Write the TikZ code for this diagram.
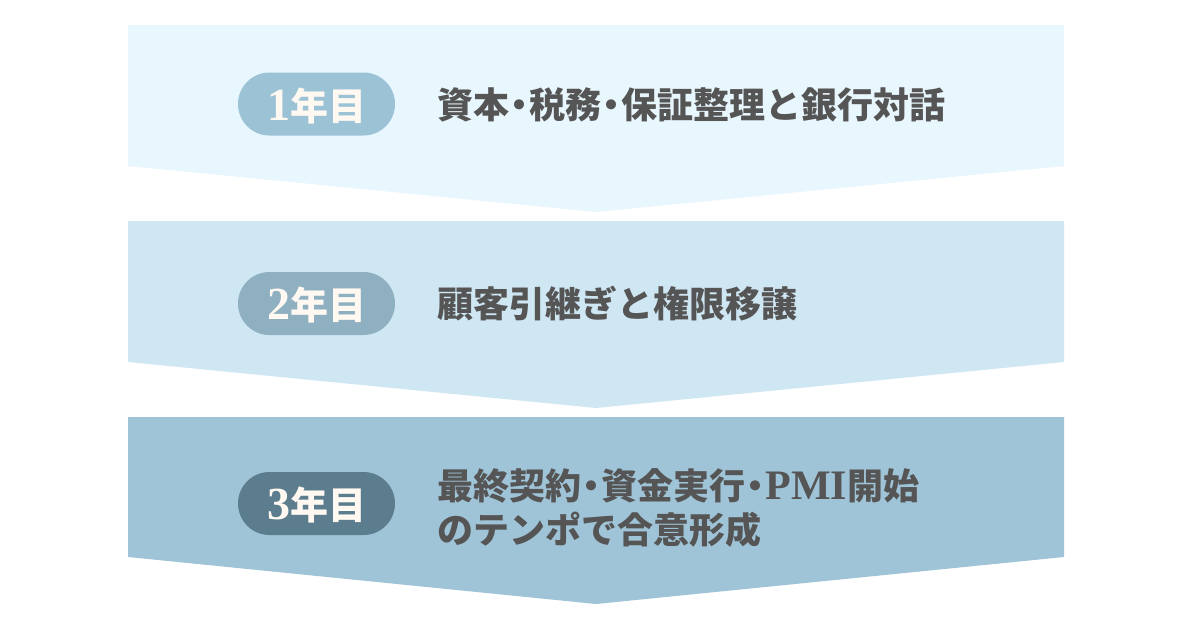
\documentclass[tikz,border=0pt]{standalone}
\usepackage{fontspec}
\newfontfamily\jp{Noto Sans CJK JP}
\newfontfamily\lser{Liberation Serif}
\definecolor{pone}{HTML}{E8F6FD}
\definecolor{ptwo}{HTML}{CFE6F3}
\definecolor{pthree}{HTML}{A0C4D7}
\definecolor{bone}{HTML}{9CC2D6}
\definecolor{btwo}{HTML}{8FB0C0}
\definecolor{bthree}{HTML}{5B7D8E}
\definecolor{txt}{HTML}{555555}
\definecolor{ptxt}{HTML}{FFF9F2}
\newcommand\kdot{\kern-0.22em ・\kern-0.22em}
\newcommand\yr[1]{{\lser\bfseries\fontsize{46}{46}\selectfont #1}年目}
\tikzset{
  pill/.style={rounded corners=31.5pt, minimum width=157pt, minimum height=63pt, inner sep=0pt},
  pilltext/.style={anchor=base, inner sep=0pt, text=ptxt, font=\jp\bfseries\fontsize{38}{38}\selectfont},
  maintext/.style={anchor=base west, inner sep=0pt, text=txt, align=left, font=\jp\bfseries\fontsize{36}{44}\selectfont},
}
\begin{document}
\begin{tikzpicture}[x=1pt,y=-1pt]
\useasboundingbox (0,0) rectangle (1200,630);
\fill[white] (0,0) rectangle (1200,630);
% panels
\fill[pone] (128,25) -- (1064,25) -- (1064,166) -- (596,212) -- (128,166) -- cycle;
\fill[ptwo] (128,221) -- (1064,221) -- (1064,362) -- (596,408) -- (128,362) -- cycle;
\fill[pthree] (128,417) -- (1064,417) -- (1064,557) -- (596,604) -- (128,557) -- cycle;
% pills
\node[pill, fill=bone] (b1) at (316.5,104) {};
\node[pill, fill=btwo] (b2) at (316.5,303.5) {};
\node[pill, fill=bthree] (b3) at (316.5,503.5) {};
\node[pilltext] (y1) at ([yshift=-16]b1.center) {\yr{1}};
\node[pilltext] (y2) at ([yshift=-16]b2.center) {\yr{2}};
\node[pilltext] (y3) at ([yshift=-16]b3.center) {\yr{3}};
% texts
\node[maintext] (t1) at (437,118) {資本\kdot 税務\kdot 保証整理と銀行対話};
\node[maintext] (t2) at (437,317) {顧客引継ぎと権限移譲};
\node[maintext] (t3) at (437,543) {最終契約\kdot 資金実行\kdot {\lser\bfseries\fontsize{42}{42}\selectfont PMI}開始\\のテンポで合意形成};
\end{tikzpicture}
\end{document}
